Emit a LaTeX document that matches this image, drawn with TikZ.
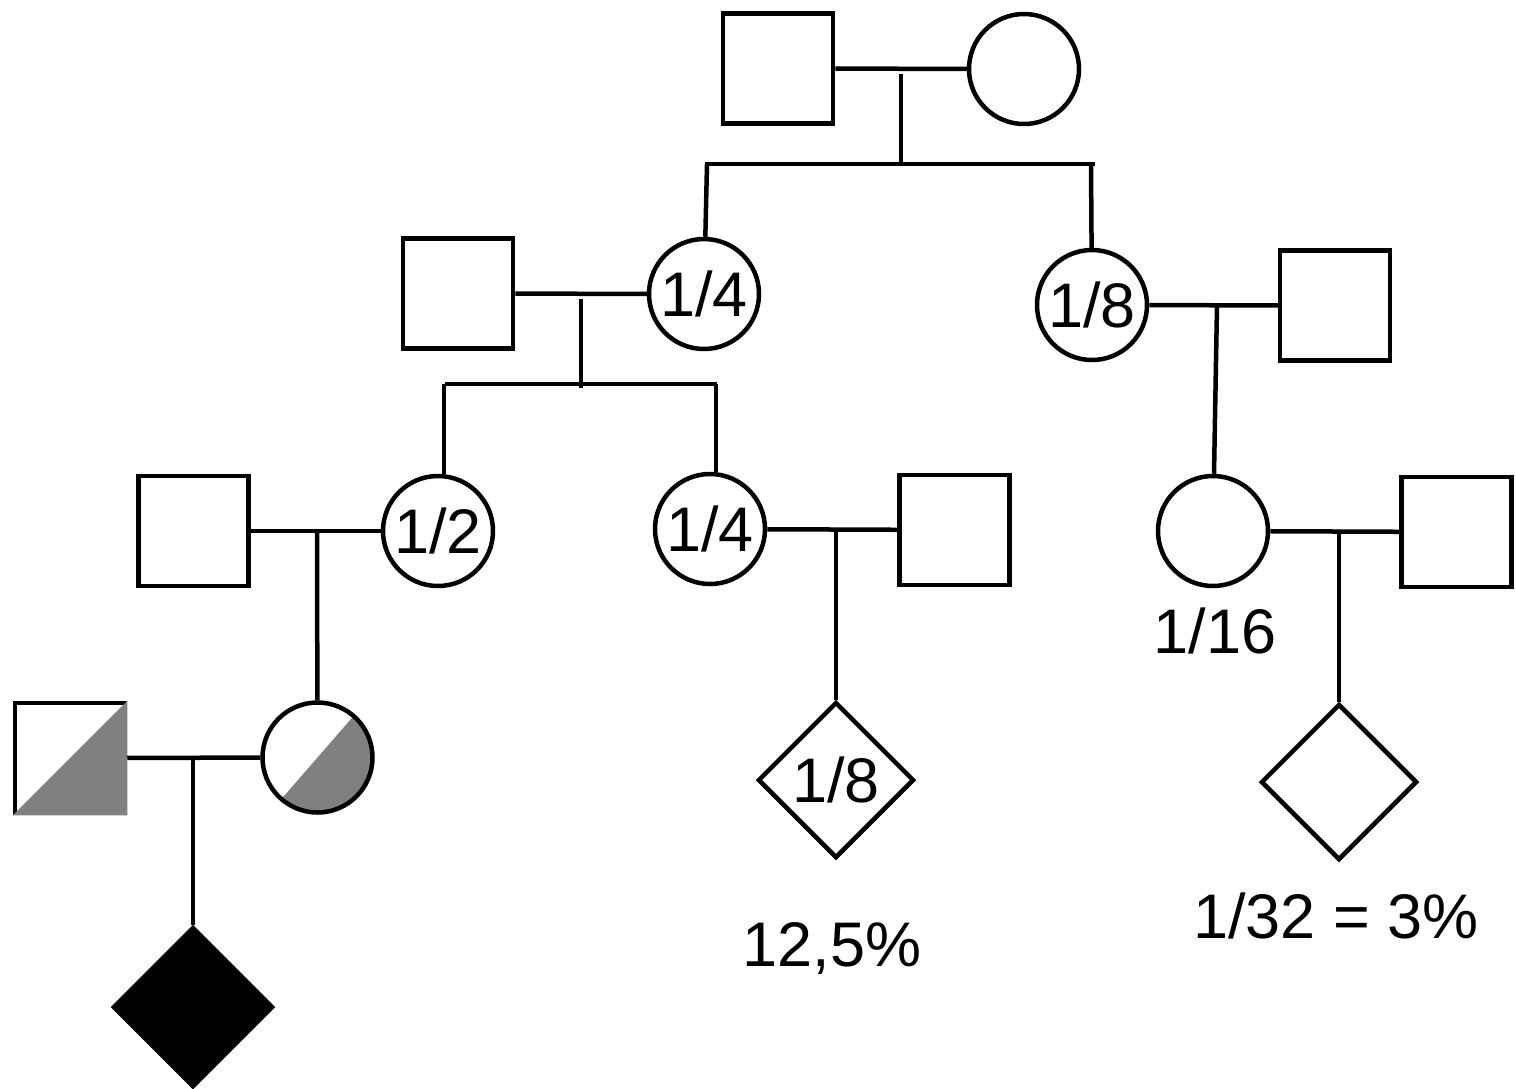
\documentclass[tikz,border=0pt]{standalone}
\usepackage{fontspec}
\setmainfont{Liberation Sans}
\usetikzlibrary{shapes.geometric}
\newcommand{\pedfont}{\fontsize{63}{70}\selectfont}
\definecolor{carrier}{HTML}{808080}
\begin{document}
\begin{tikzpicture}[x=1pt,y=-1pt,line width=4.5pt,
  male/.style={draw,rectangle,minimum size=110pt,inner sep=0pt},
  female/.style={draw,circle,minimum size=110pt,inner sep=0pt,font=\pedfont},
  unknown/.style={draw,diamond,minimum width=156pt,minimum height=156pt,inner sep=0pt,font=\pedfont},
  note/.style={font=\pedfont,inner sep=0pt,anchor=base}]
\fill[white] (0,0) rectangle (1516,1088);
\useasboundingbox (0,0) rectangle (1516,1088);

% generation I
\node[male] (gf) at (778,68.5) {};
\node[female] (gm) at (1024,69) {};
\draw (gf) -- (gm);
\coordinate (j1) at (901,74);
\coordinate (k1) at (901,164);
\coordinate (s1l) at (705,164);
\coordinate (s1r) at (1095,164);
\draw (j1) -- (k1);
\draw (s1l) -- (s1r);

% generation II
\node[female] (a1) at (704,294) {1/4};
\node[female] (a2) at (1092,305) {1/8};
\coordinate (t1) at (707,164);
\coordinate (t2) at (1091,164);
\draw (t1) -- (a1);
\draw (t2) -- (a2);

\node[male] (h1) at (458,293.5) {};
\draw (h1) -- (a1);
\coordinate (j2) at (581,299);
\coordinate (k2) at (581,388);
\coordinate (s2l) at (445,384);
\coordinate (s2r) at (717,384);
\draw (j2) -- (k2);
\draw (s2l) -- (s2r);

\node[male] (h2) at (1335,305.5) {};
\draw (a2) -- (h2);
\coordinate (j3) at (1217,305);

% generation III
\node[female] (b1) at (438,531) {1/2};
\node[female] (b2) at (710,529) {1/4};
\node[female] (c1) at (1213,531) {};
\coordinate (t3) at (444,384);
\coordinate (t4) at (716,384);
\draw (t3) -- (t3 |- b1.north);
\draw (t4) -- (t4 |- b2.north);
\draw (j3) -- (c1);
\node[note] (l16) at (1215,653) {1/16};

\node[male] (h3) at (193.5,531) {};
\draw (h3) -- (b1);
\coordinate (j4) at (317,531);

\node[male] (h4) at (954.5,530) {};
\draw (b2) -- (h4);
\coordinate (j5) at (836,529);

\node[male] (h5) at (1456.5,532) {};
\draw (c1) -- (h5);
\coordinate (j6) at (1339,532);

% generation IV
\node[female,path picture={
  \fill[carrier,shift={(path picture bounding box.center)}]
    (-100,115) -- (100,-115) -- (200,0) -- (200,200) -- (0,200) -- cycle;}]
  (d1) at (317.5,757.5) {};
\draw (j4) -- (d1);

\node[male] (h6) at (70,758) {};
\fill[carrier] (h6.south west) -- (h6.south east) -- (h6.north east) -- cycle;
\draw (h6) -- (d1);
\coordinate (j7) at (193,758);

\node[unknown] (e1) at (836,780) {1/8};
\draw (j5) -- (e1);
\node[note] (p1) at (832,966) {12,5\%};

\node[unknown] (e2) at (1339,782) {};
\draw (j6) -- (e2);
\node[note] (p2) at (1336,938) {1/32 = 3\%};

% generation V
\node[unknown,fill=black,minimum width=160pt,minimum height=160pt] (f1) at (193,1007) {};
\draw (j7) -- (f1);
\end{tikzpicture}
\end{document}
